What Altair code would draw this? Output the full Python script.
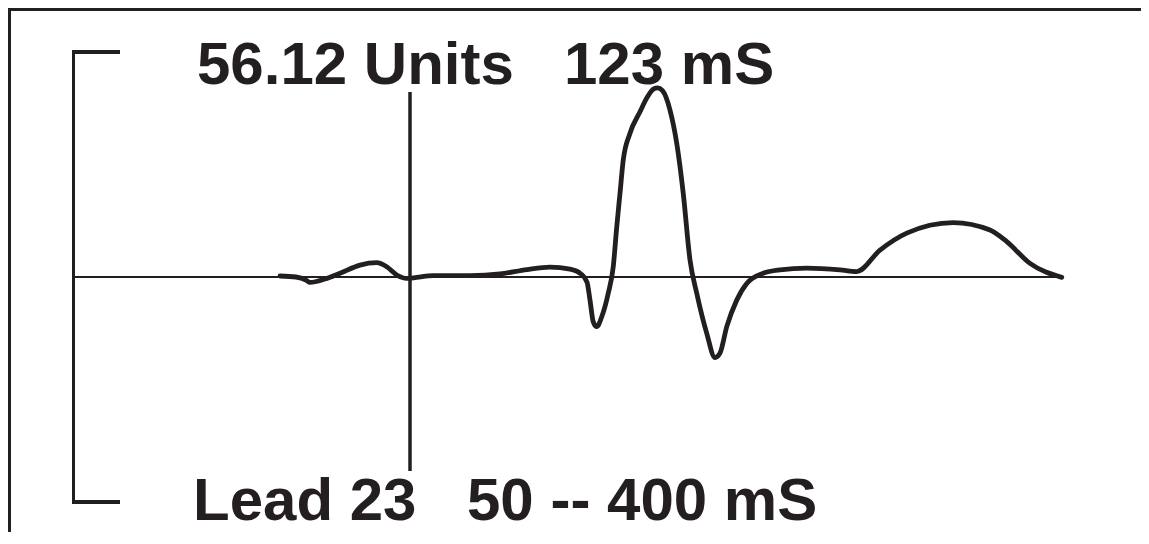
import altair as alt
import pandas as pd

# ---- data (time in ms, amplitude in units) ----
time_ms = [71.0, 77.4, 81.4, 83.0, 89.0, 95.0, 103.0, 109.7, 113.7, 117.7,
           121.7, 125.7, 132.2, 147.0, 159.0, 169.8, 179.0, 187.0, 191.4, 193.8,
           195.0, 196.3, 197.7, 199.7, 202.3, 204.3, 205.7, 207.0, 208.3, 211.0,
           215.0, 218.0, 220.5, 222.0, 224.0, 227.0, 229.7, 232.3, 235.0, 237.7,
           241.7, 245.0, 247.0, 249.7, 253.7, 257.7, 264.3, 271.0, 281.7, 295.0,
           301.7, 311.0, 321.7, 340.3, 355.0, 361.7, 371.0, 383.7]
amplitude = [0.3, 0.0, -0.9, -1.6, -0.6, 1.1, 3.5, 4.2, 3.0, 0.6,
             -0.4, -0.1, 0.4, 0.4, 0.9, 2.2, 2.9, 2.3, 0.9, -1.5,
             -6.8, -13.2, -14.6, -11.7, -4.8, 3.0, 14.8, 24.6, 34.4, 42.3,
             48.6, 53.0, 55.3, 55.6, 54.8, 49.1, 39.3, 24.6, 5.0, -4.8,
             -16.6, -23.7, -22.4, -14.6, -6.8, -1.9, 1.1, 2.1, 2.6, 2.1,
             1.6, 7.9, 12.9, 16.0, 13.8, 10.4, 4.0, -0.1]
cursor_ms = 123
baseline_amp = 0

top_left_text = "56.12 Units"
top_right_text = "123 mS"
bottom_left_text = "Lead 23"
bottom_right_text = "50 -- 400 mS"

INK = "#231f20"
FONT = "Liberation Sans"
W, H = 1133, 524

df = pd.DataFrame({"t": time_ms, "a": amplitude})

xs = alt.Scale(domain=[-37.8, 415.4], nice=False, zero=False)
ys = alt.Scale(domain=[-75.0, 79.118], nice=False, zero=False)
X = lambda f: alt.X(f, scale=xs, axis=None)
Y = lambda f: alt.Y(f, scale=ys, axis=None)

base = alt.Chart(df)

wave = base.mark_line(interpolate="monotone", strokeWidth=4.8, color=INK,
                      strokeCap="round", strokeJoin="round").encode(
    x=X("t:Q"), y=Y("a:Q"))

baseline = alt.Chart(pd.DataFrame({"a": [baseline_amp]})).mark_rule(
    color=INK, strokeWidth=2).encode(
    y=Y("a:Q"), x=alt.value(67), x2=alt.value(1055))

cursor = alt.Chart(pd.DataFrame({"t": [cursor_ms]})).mark_rule(
    color=INK, strokeWidth=3.5).encode(
    x=X("t:Q"), y=alt.value(84), y2=alt.value(463))

bracket_v = base.mark_rule(color=INK, strokeWidth=2.5).encode(
    x=alt.value(65.5), y=alt.value(44), y2=alt.value(494))
bracket_t = base.mark_rule(color=INK, strokeWidth=2.5).encode(
    x=alt.value(64.5), x2=alt.value(112), y=alt.value(44))
bracket_b = base.mark_rule(color=INK, strokeWidth=2.5).encode(
    x=alt.value(64.5), x2=alt.value(112), y=alt.value(494))

border_top = base.mark_rule(color=INK, strokeWidth=3).encode(
    x=alt.value(0), x2=alt.value(W), y=alt.value(1.5))
border_left = base.mark_rule(color=INK, strokeWidth=3).encode(
    x=alt.value(1.5), y=alt.value(0), y2=alt.value(H))


def label(txt, px, py):
    return alt.Chart(pd.DataFrame({"s": [txt]})).mark_text(
        font=FONT, fontSize=60, fontWeight="bold", color=INK,
        align="left", baseline="alphabetic").encode(
        text="s:N", x=alt.value(px), y=alt.value(py))


texts = (label(top_left_text, 189, 76) + label(top_right_text, 556, 76)
         + label(bottom_left_text, 185, 512) + label(bottom_right_text, 459, 512))

chart = alt.layer(
    border_top, border_left, bracket_v, bracket_t, bracket_b,
    baseline, cursor, wave, texts
).properties(
    width=W, height=H, padding=0, autosize=alt.AutoSizeParams(type="none")
).configure_view(stroke=None).configure(background="white")

chart.save("out.html", embed_options={"renderer": "svg", "actions": False})
